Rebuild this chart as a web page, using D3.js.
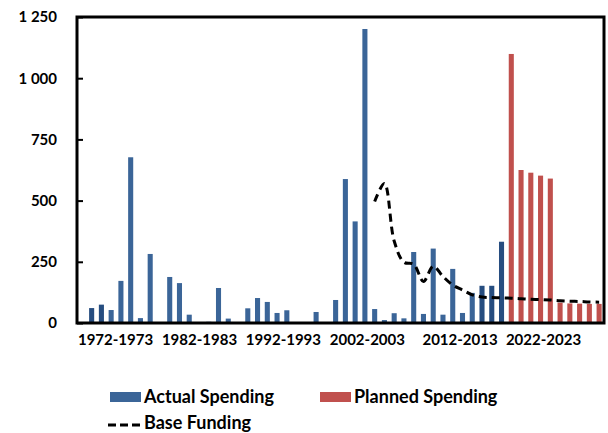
<!DOCTYPE html>
<html><head><meta charset="utf-8">
<script src="https://cdn.jsdelivr.net/npm/d3@7"></script>
<style>
html,body{margin:0;padding:0;background:#fff;}
svg{display:block;}
text{font-family:Lato,"Liberation Sans",sans-serif;font-weight:bold;fill:#000;}
</style></head>
<body><svg id="c" width="608" height="433"></svg>
<script>
// Category indices (fiscal years), 54 categories
const categories = d3.range(54);
// Actual spending (blue); null = no bar
const actual = [0,61,75,53,172,677,20,282,0,188,163,34,2,5,143,18,0,60,102,86,41,52,3,0,45,3,94,588,415,1201,57,12,40,19,290,37,304,34,221,41,123,152,152,332,
  null,null,null,null,null,null,null,null,null,null];
// Planned spending (red)
const planned = [null,null,null,null,null,null,null,null,null,null,null,null,null,null,null,null,null,null,null,null,null,null,null,null,null,null,null,null,null,null,null,null,null,null,null,null,null,null,null,null,null,null,null,null,
  1099,625,614,602,590,83,80,79,78,78];
// Base funding (dashed line), from category 30 onward
const baseStart = 30;
const baseFunding = [496,570,335,248,240,170,232,190,155,135,115,106,104,103,101,99,97,96,94,91,89,88,86,85];
// Tick labels and the (fractional) category positions they sit under
const tickLabels = ["1972-1973","1982-1983","1992-1993","2002-2003","2012-2013","2022-2023"];
const tickCats = [3.4,12,20.6,29.2,38.7,47.25];
const yTicks = [0,250,500,750,1000,1250];
const darkIdx = new Set([1,2,41,42,43]);

const svg = d3.select("#c");
const L=77,R=604,T=17,B=323;
const x = d3.scaleBand().domain(categories).range([L,R]).paddingInner(0.48).paddingOuter(0.24);
const y = d3.scaleLinear().domain([0,1250]).range([B,T]);
// continuous index scale consistent with the band centres
const n = categories.length;
const xc = d3.scaleLinear().domain([0,n-1]).range([x(0)+x.bandwidth()/2, x(n-1)+x.bandwidth()/2]);

// bars
svg.append("g").selectAll("rect").data(categories.filter(i=>actual[i]!=null && actual[i]>0)).join("rect")
  .attr("x",i=>x(i)).attr("width",x.bandwidth())
  .attr("y",i=>y(actual[i])).attr("height",i=>y(0)-y(actual[i]))
  .attr("fill",i=>darkIdx.has(i)?"#264d80":"#3b6598");
svg.append("g").selectAll("rect").data(categories.filter(i=>planned[i]!=null)).join("rect")
  .attr("x",i=>x(i)).attr("width",x.bandwidth())
  .attr("y",i=>y(planned[i])).attr("height",i=>y(0)-y(planned[i]))
  .attr("fill","#c0504d");

// base funding line
const line = d3.line().x((d,k)=>x(baseStart+k)+x.bandwidth()/2).y(d=>y(d)).curve(d3.curveCatmullRom.alpha(0.5));
svg.append("path").datum(baseFunding).attr("d",line).attr("fill","none")
  .attr("stroke","#000").attr("stroke-width",3).attr("stroke-dasharray","8,5");

// frame
svg.append("rect").attr("x",L).attr("y",T).attr("width",R-L).attr("height",B-T)
  .attr("fill","none").attr("stroke","#000").attr("stroke-width",3);

// y axis
const yAxis = d3.axisLeft(y).tickValues(yTicks).tickSize(-6).tickPadding(20)
  .tickFormat(d=>d3.format(",")(d).replace(/,/g," "));
const ga = svg.append("g").attr("transform",`translate(${L},0)`).call(yAxis);
ga.select(".domain").remove();
ga.selectAll("line").attr("stroke","#000").attr("stroke-width",2);
ga.selectAll("text").style("font-size","15px").attr("fill","#000");

// x axis labels
const xAxis = d3.axisBottom(xc).tickValues(tickCats).tickSize(0).tickPadding(11)
  .tickFormat((d,k)=>tickLabels[k]);
const gx = svg.append("g").attr("transform",`translate(0,${B})`).call(xAxis);
gx.select(".domain").remove();
gx.selectAll("text").style("font-size","15px").attr("fill","#000");

// legend
const lg = svg.append("g");
lg.append("rect").attr("x",110).attr("y",392).attr("width",31).attr("height",10).attr("fill","#3b6598");
lg.append("text").attr("x",144).attr("y",403).style("font-size","18px").text("Actual Spending");
lg.append("rect").attr("x",320).attr("y",392).attr("width",31).attr("height",10).attr("fill","#c0504d");
lg.append("text").attr("x",354).attr("y",403).style("font-size","18px").text("Planned Spending");
lg.append("line").attr("x1",108).attr("x2",142).attr("y1",425).attr("y2",425)
  .attr("stroke","#000").attr("stroke-width",3).attr("stroke-dasharray","8,4");
lg.append("text").attr("x",144).attr("y",429).style("font-size","18px").text("Base Funding");
</script></body></html>
